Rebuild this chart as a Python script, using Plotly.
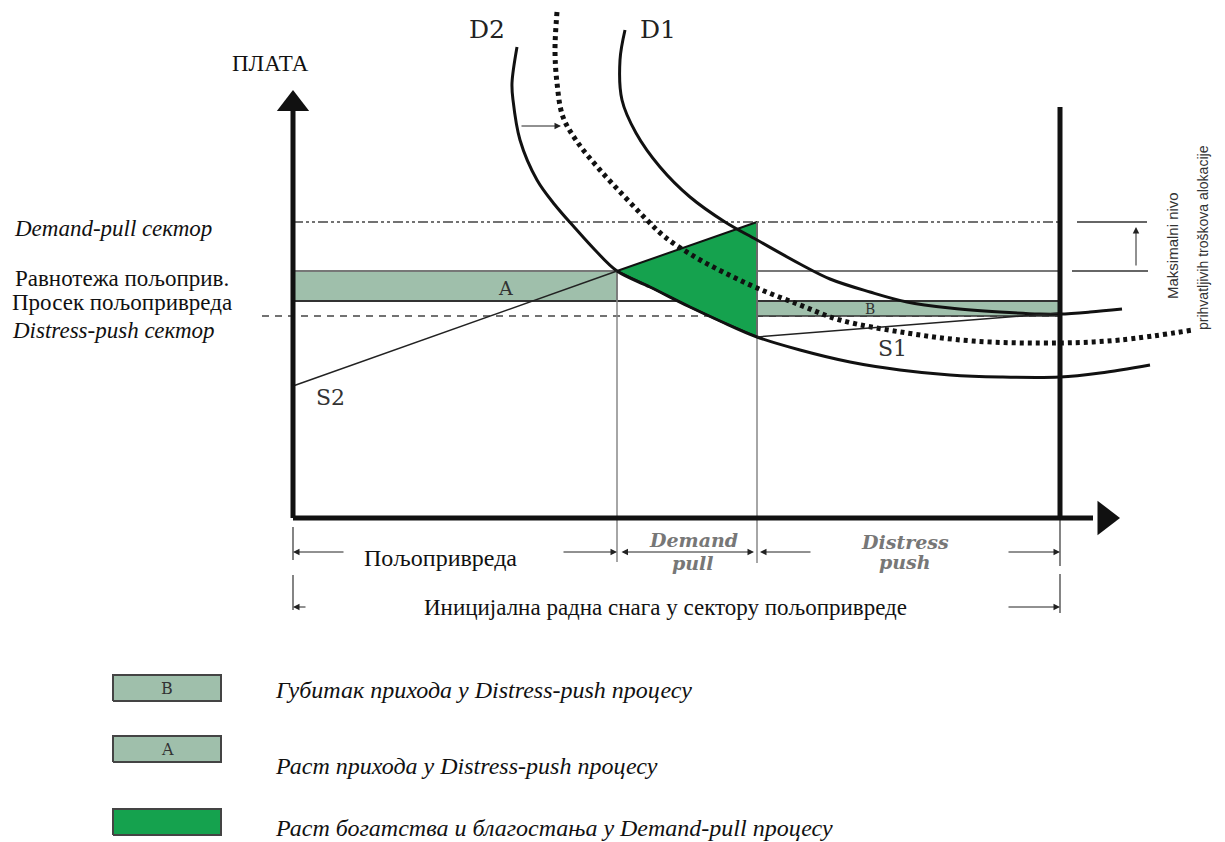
import plotly.graph_objects as go

# координате: x = радна снага, y = плата (исходиште у углу оса)
wage_demand_pull = 296
wage_equilibrium = 247
wage_average = 217
wage_distress = 202
labour_agri = 324
labour_demand = 464
labour_total = 767

d1_x = [332, 327, 329, 343, 367, 397, 432, 464, 507, 537, 577, 614, 657, 707, 747, 767, 797, 829]
d1_y = [488, 458, 418, 385, 351, 321, 296, 278, 254, 239, 226, 216, 210, 206, 204, 204, 206, 209]

d2_x = [224, 219, 220, 227, 244, 262, 282, 302, 324, 357, 397, 427, 464, 507, 557, 607, 657, 707, 767, 807, 857]
d2_y = [471, 435, 418, 378, 338, 313, 290, 268, 247, 231, 211, 197, 181, 168, 156, 148, 143, 141, 141, 145, 153]

d3_x = [264, 262, 264, 270, 285, 307, 330, 352, 372, 402, 430, 464, 507, 547, 614, 680, 767, 827, 900]
d3_y = [506, 468, 435, 401, 375, 348, 323, 300, 281, 261, 246, 230, 213, 198, 185, 177, 175, 178, 188]

s2_x = [0, labour_agri]
s2_y = [132, wage_equilibrium]
s1_x = [labour_demand, labour_total]
s1_y = [181, 205]

legend_labels = ["Губитак прихода у Distress-push процесу",
                 "Раст прихода у Distress-push процесу",
                 "Раст богатства и благостања у Demand-pull процесу"]

GRAY_GREEN = "#9fbfab"
GREEN = "#15a24e"
SERIF = "Liberation Serif, DejaVu Serif, serif"
WIDE = "DejaVu Serif, serif"
NARROW = "Liberation Sans Narrow, Liberation Sans, sans-serif"

fig = go.Figure()


def line(x, y, color="#111", width=2, dash="solid", shape="linear"):
    fig.add_trace(go.Scatter(x=x, y=y, mode="lines", hoverinfo="skip", showlegend=False,
                             line=dict(color=color, width=width, dash=dash, shape=shape)))


def poly(x, y, fill, lc="#333", lw=1.5):
    fig.add_trace(go.Scatter(x=x, y=y, mode="lines", fill="toself", fillcolor=fill, hoverinfo="skip",
                             showlegend=False, line=dict(color=lc, width=lw)))


# хоризонтални нивои плата
line([0, labour_total], [wage_demand_pull] * 2, "#444", 1.5, "10px,3px,3px,3px,3px,3px")
line([-31, labour_total], [wage_distress] * 2, "#444", 1.5, "7px,6px")

# површине A и B
poly([0, labour_agri, labour_agri, 0, 0],
     [wage_average, wage_average, wage_equilibrium, wage_equilibrium, wage_average], GRAY_GREEN)
poly([labour_demand, labour_total, labour_total, labour_demand, labour_demand],
     [wage_distress, wage_distress, wage_average, wage_average, wage_distress], GRAY_GREEN)
line([0, labour_total], [wage_equilibrium] * 2, "#777", 2)
line([0, labour_total], [wage_average] * 2, "#333", 2)

# зелени троугао (Demand-pull добитак)
inside = [(x, y) for x, y in zip(d2_x, d2_y) if labour_agri < x <= labour_demand]
tri_x = [labour_demand, labour_agri] + [p[0] for p in inside] + [labour_demand]
tri_y = [wage_demand_pull, wage_equilibrium] + [p[1] for p in inside] + [wage_demand_pull]
poly(tri_x, tri_y, GREEN, "#111", 2)

# вертикалне границе сектора
line([labour_agri, labour_agri], [wage_equilibrium, -44], "#888", 1.5)
line([labour_demand, labour_demand], [wage_demand_pull, -45], "#888", 1.5)
line([0, 0], [-9, -42], "#333", 1.2)
line([0, 0], [-57, -92], "#333", 1.2)
line([labour_total, labour_total], [0, -48], "#333", 1.2)
line([labour_total, labour_total], [-56, -95], "#333", 1.2)

# криве
line(d3_x, d3_y, "#111", 5, "4px,4px", "spline")
line(d2_x, d2_y, "#111", 3, shape="spline")
line(d1_x, d1_y, "#111", 3, shape="spline")
line(s2_x, s2_y, "#222", 1.5)
line(s1_x, s1_y, "#222", 1.5)

# осе
line([0, 0], [0, 408], "#111", 5)
line([0, 800], [0, 0], "#111", 5)
line([labour_total, labour_total], [0, 411], "#111", 5)
fig.add_trace(go.Scatter(x=[0], y=[414], mode="markers", hoverinfo="skip", showlegend=False,
                         marker=dict(symbol="triangle-up", size=28, color="#111")))
fig.add_trace(go.Scatter(x=[812], y=[0], mode="markers", hoverinfo="skip", showlegend=False,
                         marker=dict(symbol="triangle-right", size=30, color="#111")))

# десна заграда
line([784, 854], [wage_demand_pull] * 2, "#333", 1.5)
line([779, 855], [wage_equilibrium] * 2, "#333", 1.5)

ann = []


def arrow(x, y, ax, ay, side="end"):
    ann.append(dict(x=x, y=y, ax=ax, ay=ay, xref="x", yref="y", axref="x", ayref="y", text="",
                    showarrow=True, arrowhead=2, arrowsize=1.3, arrowwidth=1, arrowcolor="#222",
                    arrowside=side))


def label(x, y, text, size=18, color="#111", italic=False, xanchor="center", angle=0, font=SERIF):
    ann.append(dict(x=x, y=y, xref="x", yref="y", text=text, showarrow=False, xanchor=xanchor,
                    yanchor="middle", textangle=angle,
                    font=dict(family=font, size=size, color=color, style="italic" if italic else "normal")))


arrow(843, 291, 843, 251)
arrow(268, 392, 227, 392)
arrow(0, -34, 52, -34)
arrow(labour_agri, -34, 269, -34)
arrow(labour_demand - 3, -34, labour_agri + 3, -34, "end+start")
arrow(labour_demand + 3, -34, 519, -34)
arrow(labour_total, -34, 714, -34)
arrow(0, -89, 14, -89)
arrow(labour_total, -89, 714, -89)

label(-23, 455, "ПЛАТА", 23)
label(194, 489, "D2", 25, "#222", font=WIDE)
label(365, 489, "D1", 25, "#222", font=WIDE)
label(37, 121, "S2", 22, "#333", font=WIDE)
label(599, 170, "S1", 22, "#333", font=WIDE)
label(212, 230, "A", 19, "#333", font=WIDE)
label(577, 209, "B", 14, "#333", font=WIDE)

label(-180, 290, "Demand-pull сектор", 23, italic=True)
label(-171, 240, "Равнотежа пољоприв.", 23)
label(-171, 216, "Просек пољопривреда", 23)
label(-180, 188, "Distress-push сектор", 23, italic=True)

label(147, -40, "Пољопривреда", 24)
label(400, -22, "<b>Demand</b>", 19, "#777", True, font=WIDE)
label(400, -45, "<b>pull</b>", 19, "#777", True, font=WIDE)
label(612, -24, "<b>Distress</b>", 19, "#777", True, font=WIDE)
label(612, -44, "<b>push</b>", 19, "#777", True, font=WIDE)
label(372, -89, "Иницијална радна снага у сектору пољопривреде", 23)

label(879, 272, "Maksimalni nivo", 15, "#333", angle=-90, font=NARROW)
label(910, 280, "prihvatljivih troškova alokacije", 14, "#333", angle=-90, font=NARROW)

# легенда
legend_y = [-170, -231, -304]
legend_text_y = [-172, -248, -310]
legend_fill = [GRAY_GREEN, GRAY_GREEN, GREEN]
legend_mark = ["B", "A", ""]
for ly, ty, lf, lm, lt in zip(legend_y, legend_text_y, legend_fill, legend_mark, legend_labels):
    poly([-180, -72, -72, -180, -180], [ly - 13, ly - 13, ly + 13, ly + 13, ly - 13], lf, "#444", 2)
    if lm:
        label(-126, ly, lm, 16, "#333", font=WIDE)
    label(-20, ty, lt, 24, italic=True, xanchor="left")

# страница има 8px маргину, па се опсег помера
fig.update_layout(
    width=1225, height=842,
    margin=dict(l=0, r=0, t=0, b=0),
    paper_bgcolor="white", plot_bgcolor="white",
    xaxis=dict(range=[-285, 940], visible=False, fixedrange=True),
    yaxis=dict(range=[-332, 510], visible=False, fixedrange=True),
    annotations=ann,
)

fig.write_html("out.html")
